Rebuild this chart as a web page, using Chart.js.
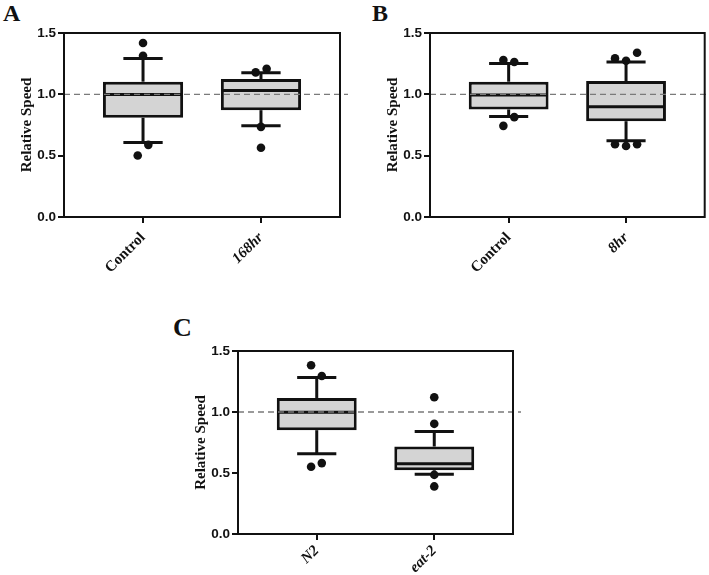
<!DOCTYPE html>
<html>
<head>
<meta charset="utf-8">
<script src="https://cdn.jsdelivr.net/npm/chart.js@4.4.0/dist/chart.umd.min.js"></script>
<style>
body { margin: 0; background: #fff; width: 709px; height: 575px; position: relative; overflow: hidden; }
canvas { position: absolute; }
.panel { position: absolute; font-family: 'Liberation Serif'; font-weight: bold; line-height: 1; color: #111; }
</style>
</head>
<body>
<div class="panel" style="left:3px;top:1px;font-size:24px">A</div>
<div class="panel" style="left:372px;top:1px;font-size:24px">B</div>
<div class="panel" style="left:173px;top:315px;font-size:26px">C</div>
<canvas id="chartA" width="350" height="290" style="left:0;top:0"></canvas>
<canvas id="chartB" width="343" height="290" style="left:366px;top:0"></canvas>
<canvas id="chartC" width="350" height="257" style="left:174px;top:318px"></canvas>
<script>
// panel A
const labelsA = ['Control', '168hr'];
const lowA = [0.607, 0.743];
const q1A = [0.809, 0.871];
const medA = [0.998, 1.032];
const q3A = [1.103, 1.124];
const highA = [1.293, 1.176];
const outA = [[1.418, 1.315, 0.588, 0.501], [1.179, 1.209, 0.735, 0.564]];

// panel B
const labelsB = ['Control', '8hr'];
const lowB = [0.820, 0.621];
const q1B = [0.877, 0.781];
const medB = [0.994, 0.898];
const q3B = [1.103, 1.108];
const highB = [1.252, 1.263];
const outB = [[1.280, 1.263, 0.814, 0.743], [1.293, 1.274, 1.339, 0.593, 0.579, 0.593]];

// panel C
const labelsC = ['N2', 'eat-2'];
const lowC = [0.657, 0.490];
const q1C = [0.851, 0.522];
const medC = [0.998, 0.575];
const q3C = [1.115, 0.717];
const highC = [1.282, 0.840];
const outC = [[1.383, 1.295, 0.551, 0.581], [1.121, 0.903, 0.485, 0.390]];

const yTicks = [0, 0.5, 1.0, 1.5];
const refValue = 1.0;

// horizontal spread of the dots (fraction of category spacing)
const jitterA = [[0, 0, 0.045, -0.045], [-0.045, 0.048, 0, 0]];
const jitterB = [[-0.045, 0.048, 0.048, -0.045], [-0.094, 0, 0.094, -0.094, 0, 0.094]];
const jitterC = [[-0.048, 0.043, -0.048, 0.043], [0, 0, 0, 0]];

const ink = '#111';

const boxPlugin = {
  id: 'boxWhisker',
  afterDatasetDraw(chart, args, opts) {
    if (args.meta.type !== 'bar') return;
    const ctx = chart.ctx, xs = chart.scales.x, ys = chart.scales.y, area = chart.chartArea;
    const line = (x1, y1, x2, y2) => { ctx.beginPath(); ctx.moveTo(x1, y1); ctx.lineTo(x2, y2); ctx.stroke(); };
    ctx.save();
    ctx.strokeStyle = ink;
    ctx.lineWidth = 3;
    args.meta.data.forEach((bar, i) => {
      const cx = xs.getPixelForValue(i);
      const half = bar.width * 0.245;
      const yHi = ys.getPixelForValue(opts.high[i]);
      const yLo = ys.getPixelForValue(opts.low[i]);
      const yQ3 = ys.getPixelForValue(opts.q3[i]);
      const yQ1 = ys.getPixelForValue(opts.q1[i]);
      const yMed = ys.getPixelForValue(opts.med[i]);
      line(cx, yQ3, cx, yHi);
      line(cx - half, yHi, cx + half, yHi);
      line(cx, yQ1, cx, yLo);
      line(cx - half, yLo, cx + half, yLo);
      line(bar.x - bar.width / 2 + 2, yMed, bar.x + bar.width / 2 - 2, yMed);
    });
    const yRef = ys.getPixelForValue(refValue);
    ctx.setLineDash([6, 4]);
    ctx.strokeStyle = '#7a7a7a';
    ctx.lineWidth = 1.3;
    line(area.left, yRef, area.right + 8, yRef);
    ctx.restore();
  },
  afterDraw(chart) {
    const ctx = chart.ctx, a = chart.chartArea;
    ctx.save();
    ctx.strokeStyle = ink;
    ctx.lineWidth = 2;
    ctx.strokeRect(a.left, a.top, a.right - a.left, a.bottom - a.top);
    ctx.restore();
  }
};

function makePanel(id, labels, low, q1, med, q3, high, outliers, jitter, italic, lay) {
  const boxes = labels.map((_, i) => ({ x: i, y: [q1[i], q3[i]] }));
  const dots = [];
  outliers.forEach((vals, i) => vals.forEach((v, k) => dots.push({ x: i + jitter[i][k], y: v })));
  new Chart(document.getElementById(id), {
    type: 'bar',
    data: {
      datasets: [
        {
          type: 'scatter',
          data: dots,
          backgroundColor: ink,
          borderWidth: 0,
          pointRadius: 4.3,
          order: 0
        },
        {
          data: boxes,
          backgroundColor: '#d4d4d4',
          borderColor: ink,
          borderWidth: 3,
          borderSkipped: false,
          barPercentage: 0.68,
          categoryPercentage: 1,
          order: 1
        }
      ]
    },
    options: {
      responsive: false,
      animation: false,
      events: [],
      layout: { padding: { left: 0, top: lay.top, right: lay.right, bottom: 0 } },
      plugins: {
        legend: { display: false },
        tooltip: { enabled: false },
        boxWhisker: { low: low, q1: q1, med: med, q3: q3, high: high }
      },
      scales: {
        x: {
          type: 'linear',
          offset: false,
          min: -0.67,
          max: 1.67,
          afterBuildTicks: (s) => { s.ticks = labels.map((_, i) => ({ value: i })); },
          afterFit: (s) => { s.height = lay.xHeight; },
          border: { display: false },
          grid: { offset: false, drawOnChartArea: false, drawTicks: true, tickLength: 6, color: ink, lineWidth: 2 },
          ticks: {
            autoSkip: false,
            minRotation: 45,
            maxRotation: 45,
            padding: lay.labelPad,
            color: ink,
            font: (c) => ({ family: 'Liberation Serif', size: 15, weight: 'bold', style: italic[c.index] ? 'italic' : 'normal' }),
            callback: (v, i) => labels[i]
          }
        },
        y: {
          min: 0,
          max: 1.5,
          afterBuildTicks: (s) => { s.ticks = yTicks.map(v => ({ value: v })); },
          afterFit: (s) => { s.width = 64; },
          border: { display: false },
          grid: { drawOnChartArea: false, drawTicks: true, tickLength: 6, color: ink, lineWidth: 2 },
          ticks: {
            padding: 2,
            color: ink,
            font: { family: 'Liberation Sans', size: 13.5, weight: 'bold' },
            callback: (v) => v.toFixed(1)
          },
          title: {
            display: true,
            text: 'Relative Speed',
            color: ink,
            font: { family: 'Liberation Serif', size: 15, weight: 'bold' },
            padding: { top: 18, bottom: 0 }
          }
        }
      }
    },
    plugins: [boxPlugin]
  });
}

makePanel('chartA', labelsA, lowA, q1A, medA, q3A, highA, outA, jitterA, [false, true], { top: 33, right: 10, xHeight: 73, labelPad: 6 });
makePanel('chartB', labelsB, lowB, q1B, medB, q3B, highB, outB, jitterB, [false, true], { top: 33, right: 3, xHeight: 73, labelPad: 6 });
makePanel('chartC', labelsC, lowC, q1C, medC, q3C, highC, outC, jitterC, [true, true], { top: 33, right: 11, xHeight: 41, labelPad: 2 });
</script>
</body>
</html>
